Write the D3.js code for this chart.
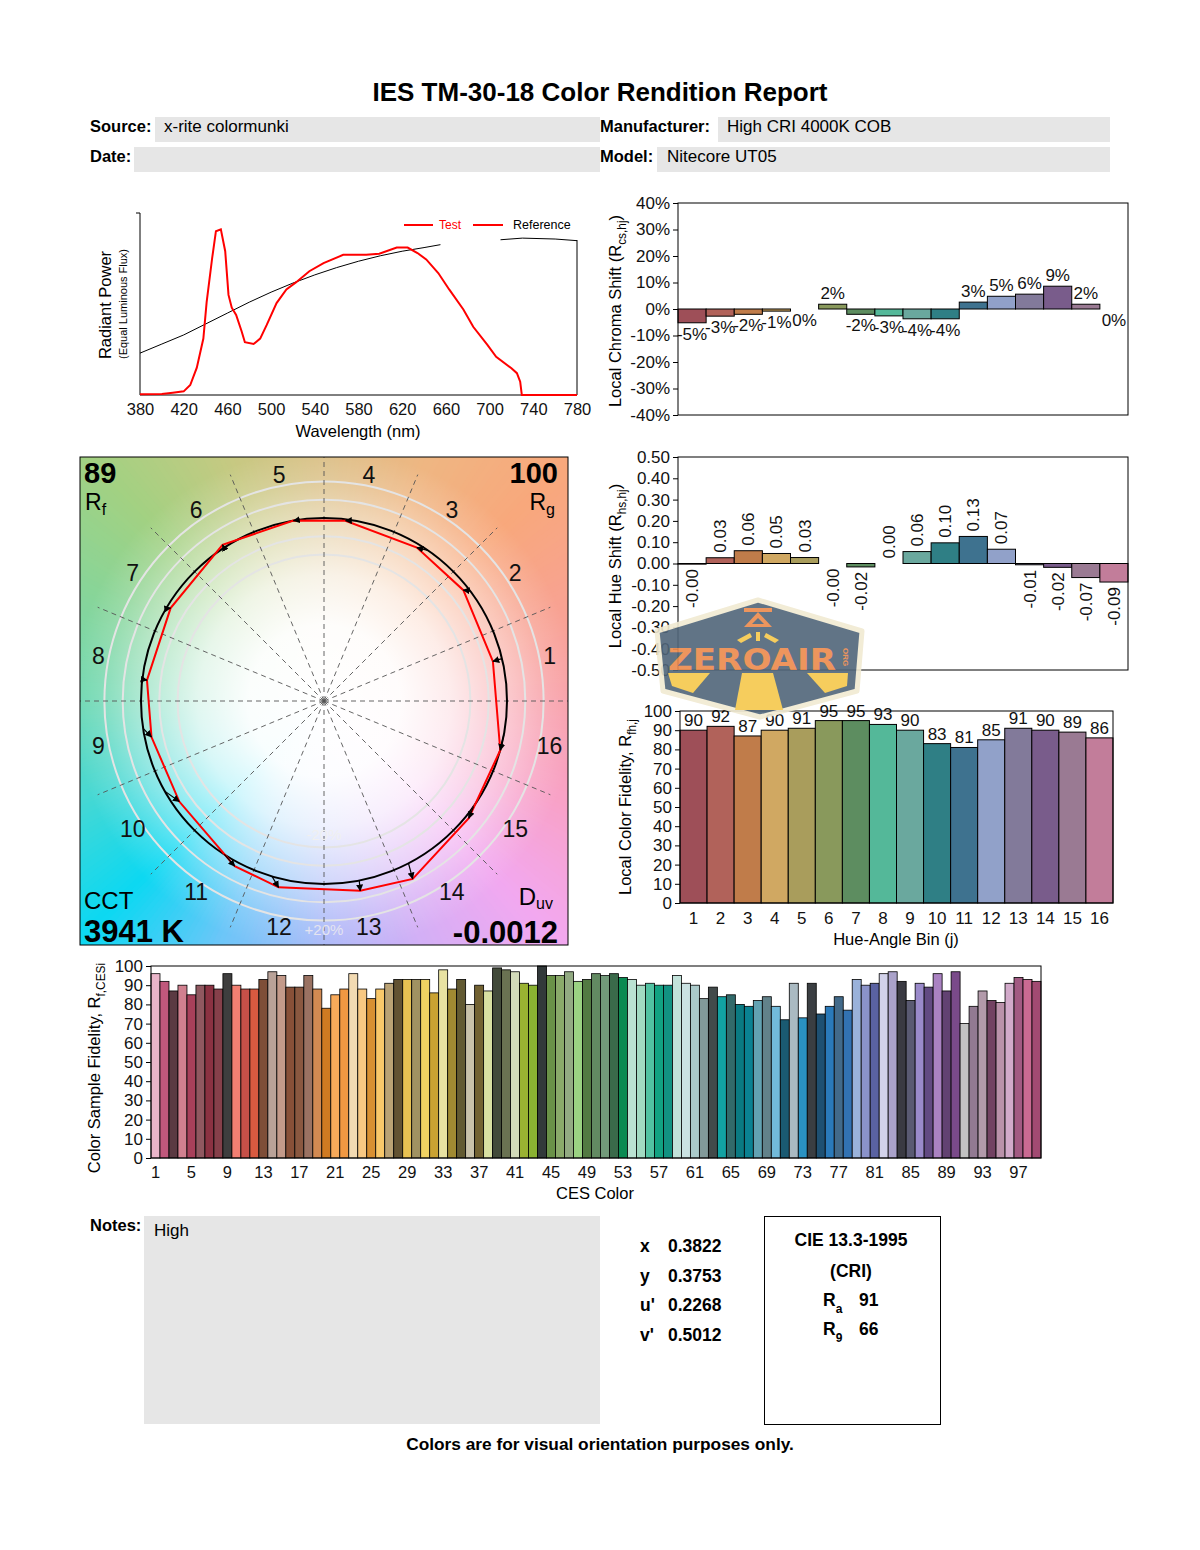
<!DOCTYPE html>
<html>
<head>
<meta charset="utf-8">
<script src="https://cdn.jsdelivr.net/npm/d3@7/dist/d3.min.js"></script>
<style>
  body { margin: 0; background: #fff; }
</style>
</head>
<body>
<script>
// values

var hueBins = [1,2,3,4,5,6,7,8,9,10,11,12,13,14,15,16];
var binColors = ["#9e4f58","#b1625a","#c07c4a","#d0a862","#a99d5c","#89995c","#5d8d60","#54b899",
                 "#6aa89e","#2f7f85","#3e728f","#91a1c9","#827a9a","#795c8b","#9a7a93","#c27d9a"];

// local chroma shift, percent
var chromaShift = [-5.2,-2.7,-2.0,-0.8,0,1.8,-2.0,-2.6,-3.7,-3.7,2.6,4.8,5.6,8.6,1.8,0];
// local hue shift
var hueShift = [-0.003,0.027,0.06,0.047,0.028,-0.0004,-0.016,0.0004,0.056,0.097,0.127,0.067,-0.006,-0.018,-0.066,-0.087];
// local colour fidelity
var localFidelity = [90,92,87,90,91,95,95,93,90,83,81,85,91,90,89,86];

// colour vector graphic, average hue angle of each bin (degrees)
var refHueAngle  = [13.4,37.0,55.4,80.5,98.0,123.1,149.7,173.2,188.6,209.5,237.0,253.5,281.1,297.5,324.8,349.4];
var testHueAngle = [13.2,38.5,58.8,83.2,99.6,123.0,148.8,173.3,191.8,214.8,241.6,256.3,280.8,296.5,321.0,344.4];

// spectrum
var wlTicks = [380,420,460,500,540,580,620,660,700,740,780];
var testWl  = [380,400,410,420,426,432,438,441,446,449.5,454,458,461,464,468,473,476,484,490,496,505,514,523,535,548,566,587,599,615,625,634,642,653,663,676,685,698,706,720,725,728,729.5,780];
var testSpd = [0.004,0.005,0.012,0.02,0.055,0.15,0.31,0.51,0.75,0.9,0.91,0.79,0.55,0.48,0.44,0.35,0.29,0.28,0.31,0.385,0.505,0.58,0.62,0.68,0.725,0.77,0.77,0.776,0.81,0.81,0.78,0.745,0.67,0.58,0.47,0.375,0.275,0.21,0.147,0.12,0.073,0,0];
var refWl   = [380,400,420,440,460,480,500,520,540,560,580,600,620,640,655,656,709,710,730,760,780];
var refSpd  = [0.23,0.28,0.33,0.39,0.45,0.51,0.565,0.615,0.66,0.70,0.735,0.765,0.79,0.81,0.826,null,null,0.853,0.862,0.857,0.848];

// CES sample fidelity
var cesFidelity = [
  96,92,87,90,85,90,90,88,96,90,
  88,88,93,97,95,89,89,95,88,78,
  85,88,96,88,83,88,91,93,93,93,
  93,86,98,88,93,80,90,87,99,98,
  97,91,90,100,95,95,97,92,93,96,
  95,96,94,93,90,91,90,90,95,91,
  90,83,89,84,85,80,79,82,84,79,
  72,91,73,91,75,79,84,77,93,90,
  91,96,97,92,82,91,89,96,87,97,
  70,79,87,82,81,91,94,93,92];
var cesColors = [
  "#e9b5c9","#c0587c","#5b3a42","#d1808f","#a8405a","#905860","#8b3242","#86404a","#3e3e3e","#f27f72",
  "#c65048","#d85a40","#7e4e38","#b9a298","#c39a8a","#885038","#8a5840","#9a7262","#d28a52","#cf7a22",
  "#f8aa5a","#f09842","#f2dab2","#f8c882","#d89032","#f9c86a","#baa274","#625232","#e8c252","#a09262",
  "#f0d262","#c9a232","#e8e2a2","#a08a32","#625a32","#c9c2aa","#726232","#d8e0a2","#424a3a","#6a7252",
  "#d2dab9","#9ab232","#8ab232","#32393a","#6a9248","#8aaa6a","#92aa82","#9ad282","#527a42","#628a62",
  "#729a7a","#3a6a4a","#0a8a52","#bae2d2","#a2dac2","#52c2a2","#12a282","#129282","#c2e2da","#cae2e2",
  "#aacaca","#829a9a","#424a4a","#12a2a2","#326a6a","#0a7a82","#0a8292","#62a2b2","#62828a","#72bada",
  "#1a5a72","#aabac2","#2a92c2","#3a3e42","#1e5072","#2a7aba","#426a8a","#3272b2","#9ab2da","#8a92ca",
  "#5a62a2","#d2d2ea","#aaa2ca","#3a3a42","#5a5a72","#9a8aca","#624a82","#aa82c2","#624272","#7a4a8a",
  "#c2c2c2","#927a92","#b29aaa","#724262","#ba92aa","#d2aaca","#a25a82","#ca6a92","#a24a72"];
var cesTicks = [1,5,9,13,17,21,25,29,33,37,41,45,49,53,57,61,65,69,73,77,81,85,89,93,97];

var chromaTicks = [-40,-30,-20,-10,0,10,20,30,40];
var hueTicks = [-0.5,-0.4,-0.3,-0.2,-0.1,0,0.1,0.2,0.3,0.4,0.5];
var fidelityTicks = [0,10,20,30,40,50,60,70,80,90,100];

// summary numbers
var Rf = 89, Rg = 100, CCT = 3941, Duv = -0.0012;
var chromLabels = ["x","y","u'","v'"];
var chromValues = ["0.3822","0.3753","0.2268","0.5012"];
var Ra = 91, R9 = 66;

var F = '"Liberation Sans", Arial, Helvetica, sans-serif';

var svg = d3.select("body").append("svg")
	.attr("width",1200).attr("height",1550)
	.style("font-family",F);
var defs = svg.append("defs");

// ---------- header ----------
svg.append("text").attr("x",600).attr("y",101).attr("text-anchor","middle")
	.style("font-weight","bold").style("font-size","26px")
	.text("IES TM-30-18 Color Rendition Report");

var fields = [
	{lab:"Source:", val:"x-rite colormunki", lx:90, bx:155, bw:445, vx:164, y:117},
	{lab:"Date:", val:"", lx:90, bx:134, bw:466, vx:144, y:147},
	{lab:"Manufacturer:", val:"High CRI 4000K COB", lx:600, bx:718, bw:392, vx:727, y:117},
	{lab:"Model:", val:"Nitecore UT05", lx:600, bx:657, bw:453, vx:667, y:147}
];
fields.forEach(function(f){
	svg.append("rect").attr("x",f.bx).attr("y",f.y).attr("width",f.bw).attr("height",25).attr("fill","#e6e6e6");
	svg.append("text").attr("x",f.lx).attr("y",f.y+15).style("font-weight","bold").style("font-size","16.5px").text(f.lab);
	svg.append("text").attr("x",f.vx).attr("y",f.y+15).style("font-size","17px").text(f.val);
});

// helpers
function styleAxis(g){
	g.attr("font-family",F).attr("font-size",17);
	g.selectAll("text").attr("fill","#111");
	g.selectAll("line").attr("stroke","#000");
	return g;
}
function rotTitle(x, y, main, sub, tail, size){
	var t = svg.append("text").attr("transform","translate("+x+","+y+") rotate(-90)")
		.attr("text-anchor","middle").style("font-size",size+"px");
	t.append("tspan").text(main);
	if (sub) {
		t.append("tspan").attr("dy",5).style("font-size",(size*0.72)+"px").text(sub);
		t.append("tspan").attr("dy",-5).text(tail);
	}
	return t;
}

// ---------- spectrum ----------
var xW = d3.scaleLinear().domain([380,780]).range([140,577]);
var yP = d3.scaleLinear().domain([0,1]).range([395,213]);

var spec = svg.append("g");
spec.append("line").attr("x1",140).attr("x2",140).attr("y1",213).attr("y2",395).attr("stroke","#000");
spec.append("line").attr("x1",136).attr("x2",140).attr("y1",213).attr("y2",213).attr("stroke","#000");
spec.append("line").attr("x1",140).attr("x2",577).attr("y1",395).attr("y2",395).attr("stroke","#000");
spec.append("line").attr("x1",577).attr("x2",577).attr("y1",240).attr("y2",395).attr("stroke","#000");

var gx = spec.append("g").attr("transform","translate(0,395)")
	.call(d3.axisBottom(xW).tickValues(wlTicks).tickSize(0).tickPadding(8).tickFormat(function(d){return d;}));
gx.select(".domain").remove();
styleAxis(gx).attr("font-size",16.5);

spec.append("path")
	.datum(refWl.map(function(w,i){return [w, refSpd[i]];}))
	.attr("d", d3.line().defined(function(d){return d[1] !== null;})
		.x(function(d){return xW(d[0]);}).y(function(d){return yP(d[1]);}))
	.attr("fill","none").attr("stroke","#000").attr("stroke-width",1);
spec.append("path")
	.datum(testWl.map(function(w,i){return [w, testSpd[i]];}))
	.attr("d", d3.line().x(function(d){return xW(d[0]);}).y(function(d){return yP(d[1]);}))
	.attr("fill","none").attr("stroke","#ff0000").attr("stroke-width",2);

// legend
spec.append("line").attr("x1",404).attr("x2",433).attr("y1",225).attr("y2",225).attr("stroke","#ff0000").attr("stroke-width",2);
spec.append("text").attr("x",439).attr("y",229).style("font-size","12px").attr("fill","#ff0000").text("Test");
spec.append("line").attr("x1",473).attr("x2",503).attr("y1",225).attr("y2",225).attr("stroke","#ff0000").attr("stroke-width",2);
spec.append("text").attr("x",513).attr("y",229).style("font-size","12.5px").text("Reference");

svg.append("text").attr("x",358).attr("y",437).attr("text-anchor","middle").style("font-size","16.5px").text("Wavelength (nm)");
rotTitle(111, 305, "Radiant Power", null, null, 16.5);
rotTitle(127, 304, "(Equal Luminous Flux)", null, null, 11);

// ---------- local chroma shift ----------
var xBin = d3.scaleBand().domain(hueBins).range([678,1128]);
var yC = d3.scaleLinear().domain([-40,40]).range([415,203]);

var gc = svg.append("g").attr("transform","translate(678,0)")
	.call(d3.axisLeft(yC).tickValues(chromaTicks).tickSize(5).tickPadding(3).tickFormat(function(d){return d+"%";}));
gc.select(".domain").remove();
styleAxis(gc);

svg.append("g").selectAll("rect")
	.data(hueBins.filter(function(b){return chromaShift[b-1] !== 0;}))
	.enter().append("rect")
	.attr("x",function(b){return xBin(b);})
	.attr("width",xBin.bandwidth())
	.attr("y",function(b){return Math.min(yC(chromaShift[b-1]), yC(0));})
	.attr("height",function(b){return Math.abs(yC(chromaShift[b-1]) - yC(0));})
	.attr("fill",function(b){return binColors[b-1];})
	.attr("stroke","#000").attr("stroke-width",1);

svg.append("g").selectAll("text")
	.data(hueBins).enter().append("text")
	.attr("x",function(b){return xBin(b) + xBin.bandwidth()/2;})
	.attr("y",function(b){var v = chromaShift[b-1]; return v > 0 ? yC(v) - 5 : yC(Math.min(v,0)) + 17;})
	.attr("text-anchor","middle").style("font-size","17px").attr("fill","#111")
	.text(function(b){return Math.round(chromaShift[b-1]) + "%";});

svg.append("rect").attr("x",678).attr("y",203).attr("width",450).attr("height",212)
	.attr("fill","none").attr("stroke","#000");
rotTitle(621, 311, "Local Chroma Shift (R", "cs,hj", ")", 16.5);

// ---------- local hue shift ----------
var yH = d3.scaleLinear().domain([-0.5,0.5]).range([670,457]);

var gh = svg.append("g").attr("transform","translate(678,0)")
	.call(d3.axisLeft(yH).tickValues(hueTicks).tickSize(5).tickPadding(3).tickFormat(function(d){return d.toFixed(2);}));
gh.select(".domain").remove();
styleAxis(gh);

svg.append("g").selectAll("rect")
	.data(hueBins.filter(function(b){return Math.abs(hueShift[b-1]) >= 0.001;}))
	.enter().append("rect")
	.attr("x",function(b){return xBin(b);})
	.attr("width",xBin.bandwidth())
	.attr("y",function(b){return Math.min(yH(hueShift[b-1]), yH(0));})
	.attr("height",function(b){return Math.abs(yH(hueShift[b-1]) - yH(0));})
	.attr("fill",function(b){return binColors[b-1];})
	.attr("stroke","#000").attr("stroke-width",1);

svg.append("g").selectAll("text")
	.data(hueBins).enter().append("text")
	.attr("transform",function(b){
		var v = hueShift[b-1];
		var y = v >= 0 ? yH(v) - 5 : yH(v) + 5;
		return "translate(" + (xBin(b) + xBin.bandwidth()/2 + 6) + "," + y + ") rotate(-90)";
	})
	.attr("text-anchor",function(b){return hueShift[b-1] >= 0 ? "start" : "end";})
	.style("font-size","17px").attr("fill","#111")
	.text(function(b){return hueShift[b-1].toFixed(2);});

svg.append("rect").attr("x",678).attr("y",457).attr("width",450).attr("height",213)
	.attr("fill","none").attr("stroke","#000");
rotTitle(621, 566, "Local Hue Shift (R", "hs,hj", ")", 16.5);

// ---------- local colour fidelity ----------
var xF = d3.scaleBand().domain(hueBins).range([680,1113]);
var yF = d3.scaleLinear().domain([0,100]).range([903,711]);

var gf = svg.append("g").attr("transform","translate(680,0)")
	.call(d3.axisLeft(yF).tickValues(fidelityTicks).tickSize(5).tickPadding(3));
gf.select(".domain").remove();
styleAxis(gf);
var gfx = svg.append("g").attr("transform","translate(0,903)")
	.call(d3.axisBottom(xF).tickSize(0).tickPadding(9));
gfx.select(".domain").remove();
styleAxis(gfx);

svg.append("g").selectAll("rect")
	.data(hueBins).enter().append("rect")
	.attr("x",function(b){return xF(b);})
	.attr("width",xF.bandwidth())
	.attr("y",function(b){return yF(localFidelity[b-1]);})
	.attr("height",function(b){return yF(0) - yF(localFidelity[b-1]);})
	.attr("fill",function(b){return binColors[b-1];})
	.attr("stroke","#000").attr("stroke-width",1);
svg.append("g").selectAll("text")
	.data(hueBins).enter().append("text")
	.attr("x",function(b){return xF(b) + xF.bandwidth()/2;})
	.attr("y",function(b){return yF(localFidelity[b-1]) - 4;})
	.attr("text-anchor","middle").style("font-size","17px").attr("fill","#111")
	.text(function(b){return localFidelity[b-1];});
svg.append("rect").attr("x",680).attr("y",711).attr("width",433).attr("height",192)
	.attr("fill","none").attr("stroke","#000");
svg.append("text").attr("x",896).attr("y",945).attr("text-anchor","middle").style("font-size","16.5px").text("Hue-Angle Bin (j)");
rotTitle(631, 807, "Local Color Fidelity, R", "fh,j", "", 16.5);

// ---------- CES sample fidelity ----------
var cesIdx = cesFidelity.map(function(d,i){return i+1;});
var xS = d3.scaleBand().domain(cesIdx).range([151,1041]);
var yS = d3.scaleLinear().domain([0,100]).range([1158,966]);

var gs = svg.append("g").attr("transform","translate(151,0)")
	.call(d3.axisLeft(yS).tickValues(fidelityTicks).tickSize(5).tickPadding(3));
gs.select(".domain").remove();
styleAxis(gs);
var gsx = svg.append("g").attr("transform","translate(0,1158)")
	.call(d3.axisBottom(xS).tickValues(cesTicks).tickSize(0).tickPadding(8));
gsx.select(".domain").remove();
styleAxis(gsx).attr("font-size",16.5);

svg.append("g").selectAll("rect")
	.data(cesIdx).enter().append("rect")
	.attr("x",function(i){return xS(i);})
	.attr("width",xS.bandwidth())
	.attr("y",function(i){return yS(cesFidelity[i-1]);})
	.attr("height",function(i){return yS(0) - yS(cesFidelity[i-1]);})
	.attr("fill",function(i){return cesColors[i-1];})
	.attr("stroke","#000").attr("stroke-width",0.8);
svg.append("rect").attr("x",151).attr("y",966).attr("width",890).attr("height",192)
	.attr("fill","none").attr("stroke","#000");
svg.append("text").attr("x",595).attr("y",1199).attr("text-anchor","middle").style("font-size","16.5px").text("CES Color");
rotTitle(100, 1068, "Color Sample Fidelity, R", "f,CESi", "", 16.5);

// ---------- colour vector graphic ----------
var cx = 324, cy = 701, R = 183;
var vg = svg.append("g");
defs.append("clipPath").attr("id","vgclip").append("rect")
	.attr("x",80).attr("y",457).attr("width",488).attr("height",488);
var bg = vg.append("g").attr("clip-path","url(#vgclip)");

// hue wheel background
var wheelStops = [[0,"#f8a0aa"],[22,"#f8a292"],[45,"#f8a87c"],[67,"#efb682"],[90,"#dcc088"],[112,"#c6c982"],
	[135,"#a2d182"],[157,"#86d59a"],[180,"#70d8b2"],[202,"#48d8d2"],[225,"#0cd8f2"],[247,"#6cc6f8"],
	[270,"#a8b8f8"],[292,"#d2b0f6"],[315,"#f2a8f0"],[337,"#f8a2c8"],[360,"#f8a0aa"]];
var wheelColor = d3.scaleLinear().domain(wheelStops.map(function(d){return d[0];}))
	.range(wheelStops.map(function(d){return d[1];})).interpolate(d3.interpolateRgb);
var wedge = d3.arc().innerRadius(0).outerRadius(400);
bg.selectAll("path.wedge").data(d3.range(0,360,1)).enter().append("path")
	.attr("class","wedge")
	.attr("transform","translate("+cx+","+cy+")")
	.attr("d",function(a){
		return wedge({startAngle:(90 - a - 1.6)*Math.PI/180, endAngle:(90 - a + 0.6)*Math.PI/180});
	})
	.attr("fill",function(a){return wheelColor(a + 0.5);});

var rg = defs.append("radialGradient").attr("id","whiteout")
	.attr("cx",cx).attr("cy",cy).attr("r",R*1.38).attr("gradientUnits","userSpaceOnUse");
[[0,1],[0.3,0.97],[0.5,0.8],[0.72,0.45],[0.88,0.15],[1,0]].forEach(function(s){
	rg.append("stop").attr("offset",s[0]).attr("stop-color","#fff").attr("stop-opacity",s[1]);
});
bg.append("rect").attr("x",80).attr("y",457).attr("width",488).attr("height",488).attr("fill","url(#whiteout)");

// grey rings
bg.selectAll("circle.ring").data([0.8,0.9,1.1,1.2]).enter().append("circle")
	.attr("class","ring").attr("cx",cx).attr("cy",cy).attr("r",function(k){return R*k;})
	.attr("fill","none").attr("stroke","#e4e4e4").attr("stroke-width",2);

// bin boundary lines
bg.selectAll("line.spoke").data(d3.range(0,16)).enter().append("line")
	.attr("class","spoke")
	.attr("x1",cx).attr("y1",cy)
	.attr("x2",function(k){return cx + 245*Math.cos(k*22.5*Math.PI/180);})
	.attr("y2",function(k){return cy - 245*Math.sin(k*22.5*Math.PI/180);})
	.attr("stroke","#555").attr("stroke-width",0.9).attr("stroke-dasharray","5,4");

bg.append("text").attr("x",cx).attr("y",840).attr("text-anchor","middle").style("font-size","15px").attr("fill","#f0f0f0").text("-20%");
bg.append("text").attr("x",cx).attr("y",935).attr("text-anchor","middle").style("font-size","15px").attr("fill","#e4e4f0").text("+20%");

// reference circle
bg.append("circle").attr("cx",cx).attr("cy",cy).attr("r",R).attr("fill","none").attr("stroke","#000").attr("stroke-width",2);

function polar(angleDeg, r){
	var a = angleDeg*Math.PI/180;
	return [cx + r*Math.cos(a), cy - r*Math.sin(a)];
}
var testPts = hueBins.map(function(b){return polar(testHueAngle[b-1], R*(1 + chromaShift[b-1]/100));});
bg.append("path").datum(testPts)
	.attr("d", d3.line().curve(d3.curveLinearClosed))
	.attr("fill","none").attr("stroke","#ff0000").attr("stroke-width",2);

defs.append("marker").attr("id","ah").attr("viewBox","0 0 10 10").attr("refX",9).attr("refY",5)
	.attr("markerWidth",7).attr("markerHeight",7).attr("markerUnits","userSpaceOnUse").attr("orient","auto")
	.append("path").attr("d","M0,0L10,5L0,10z").attr("fill","#000");
bg.selectAll("line.arrow").data(hueBins).enter().append("line")
	.attr("class","arrow")
	.attr("x1",function(b){return polar(refHueAngle[b-1], R)[0];})
	.attr("y1",function(b){return polar(refHueAngle[b-1], R)[1];})
	.attr("x2",function(b){return testPts[b-1][0];})
	.attr("y2",function(b){return testPts[b-1][1];})
	.attr("stroke","#000").attr("stroke-width",1.2).attr("marker-end","url(#ah)");

// bin numbers
bg.selectAll("text.bin").data(hueBins).enter().append("text")
	.attr("class","bin")
	.attr("x",function(b){return polar((b-0.5)*22.5, 230)[0];})
	.attr("y",function(b){return polar((b-0.5)*22.5, 230)[1] + 8;})
	.attr("text-anchor","middle").style("font-size","23px").attr("fill","#111")
	.text(function(b){return b;});

// corner numbers
bg.append("text").attr("x",84).attr("y",483).style("font-size","29px").style("font-weight","bold").text(Rf);
var trf = bg.append("text").attr("x",85).attr("y",510).style("font-size","23px");
trf.append("tspan").text("R");
trf.append("tspan").attr("dy",5).style("font-size","16px").text("f");
bg.append("text").attr("x",558).attr("y",483).attr("text-anchor","end").style("font-size","29px").style("font-weight","bold").text(Rg);
var trg = bg.append("text").attr("x",555).attr("y",510).attr("text-anchor","end").style("font-size","23px");
trg.append("tspan").text("R");
trg.append("tspan").attr("dy",5).style("font-size","16px").text("g");
bg.append("text").attr("x",84).attr("y",909).style("font-size","24px").text("CCT");
bg.append("text").attr("x",84).attr("y",942).style("font-size","31px").style("font-weight","bold").text(CCT + " K");
var tduv = bg.append("text").attr("x",553).attr("y",905).attr("text-anchor","end").style("font-size","24px");
tduv.append("tspan").text("D");
tduv.append("tspan").attr("dy",4).style("font-size","16px").text("uv");
bg.append("text").attr("x",558).attr("y",943).attr("text-anchor","end").style("font-size","31px").style("font-weight","bold").text(Duv.toFixed(4));

vg.append("rect").attr("x",80).attr("y",457).attr("width",488).attr("height",488).attr("fill","none").attr("stroke","#000");

// ---------- notes & colorimetry ----------
svg.append("text").attr("x",90).attr("y",1231).style("font-weight","bold").style("font-size","16.5px").text("Notes:");
svg.append("rect").attr("x",144).attr("y",1216).attr("width",456).attr("height",208).attr("fill","#e6e6e6");
svg.append("text").attr("x",154).attr("y",1236).style("font-size","17px").text("High");

svg.append("g").selectAll("text.lab").data(chromLabels).enter().append("text")
	.attr("x",640).attr("y",function(d,i){return 1252 + i*29.5;})
	.style("font-weight","bold").style("font-size","17.5px").text(function(d){return d;});
svg.append("g").selectAll("text.val").data(chromValues).enter().append("text")
	.attr("x",668).attr("y",function(d,i){return 1252 + i*29.5;})
	.style("font-weight","bold").style("font-size","17.5px").text(function(d){return d;});

svg.append("rect").attr("x",764.5).attr("y",1216.5).attr("width",176).attr("height",208).attr("fill","none").attr("stroke","#000");
svg.append("text").attr("x",851).attr("y",1246).attr("text-anchor","middle").style("font-weight","bold").style("font-size","17.5px").text("CIE 13.3-1995");
svg.append("text").attr("x",851).attr("y",1277).attr("text-anchor","middle").style("font-weight","bold").style("font-size","17.5px").text("(CRI)");
[["a",Ra],["9",R9]].forEach(function(r,i){
	var t = svg.append("text").attr("x",823).attr("y",1306 + i*29).style("font-weight","bold").style("font-size","17.5px");
	t.append("tspan").text("R");
	t.append("tspan").attr("dy",7).style("font-size","12px").text(r[0]);
	svg.append("text").attr("x",859).attr("y",1306 + i*29).style("font-weight","bold").style("font-size","17.5px").text(r[1]);
});
svg.append("text").attr("x",600).attr("y",1450).attr("text-anchor","middle").style("font-weight","bold").style("font-size","17.3px")
	.text("Colors are for visual orientation purposes only.");

// ---------- watermark badge ----------
var wm = svg.append("g").attr("opacity",0.9);
wm.append("polygon").attr("points","758,600 862,631 857,691 760,717 663,691 657,631")
	.attr("fill","#51667a").attr("stroke","#f1ead2").attr("stroke-width",5).attr("stroke-linejoin","round");
wm.append("polygon").attr("points","668,673 710,673 693,693 672,686").attr("fill","#f6c84c");
wm.append("polygon").attr("points","742,673 773,673 783,710 735,710").attr("fill","#f6c84c");
wm.append("polygon").attr("points","807,673 848,673 847,686 825,693").attr("fill","#f6c84c");
wm.append("polygon").attr("points","737,640 750,633 752,637 741,643").attr("fill","#f6c84c");
wm.append("polygon").attr("points","756,632 760,632 760,641 756,641").attr("fill","#f6c84c");
wm.append("polygon").attr("points","766,633 779,640 775,643 764,637").attr("fill","#f6c84c");
wm.append("path").attr("d","M744,608 L772,608 L772,612 L744,612 Z M758,612 L772,627 L744,627 Z")
	.attr("fill","#ec8a4c");
wm.append("path").attr("d","M758,618 L764,624 L752,624 Z").attr("fill","#51667a");
wm.append("text").attr("x",668).attr("y",670).attr("textLength",168).attr("lengthAdjust","spacingAndGlyphs")
	.style("font-family",'"DejaVu Sans", sans-serif').style("font-weight","bold").style("font-size","31px")
	.attr("fill","#ec8a4c").text("ZEROAIR");
wm.append("text").attr("transform","translate(843,648) rotate(90)").style("font-size","8px")
	.style("font-weight","bold").attr("fill","#ec8a4c").text("ORG");
</script>
</body>
</html>
